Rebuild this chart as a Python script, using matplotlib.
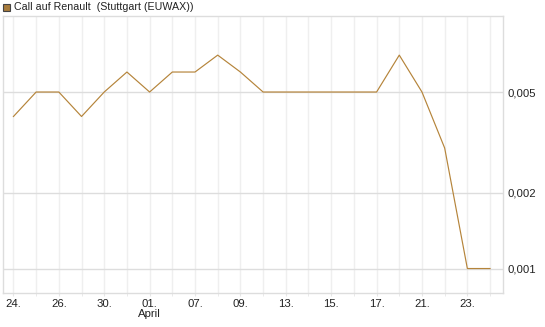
import matplotlib
matplotlib.use("Agg")
import matplotlib.pyplot as plt
from matplotlib.ticker import FixedLocator, NullLocator, FixedFormatter
from matplotlib.patches import Rectangle

plt.rcParams['font.family'] = ['Liberation Sans', 'DejaVu Sans']

title = "Call auf Renault  (Stuttgart (EUWAX))"
values = [0.004, 0.005, 0.005, 0.004, 0.005, 0.006, 0.005, 0.006, 0.006, 0.007, 0.006,
          0.005, 0.005, 0.005, 0.005, 0.005, 0.005, 0.007, 0.005, 0.003, 0.001, 0.001]
tick_idx = [0, 2, 4, 6, 8, 10, 12, 14, 16, 18, 20]
tick_labels = ["24.", "26.", "30.", "01.", "07.", "09.", "13.", "15.", "17.", "21.", "23."]
month_idx = 6
month_label = "April"
y_ticks = [0.001, 0.002, 0.005]
y_labels = ["0,001", "0,002", "0,005"]

line_color = "#b5843a"

fig = plt.figure(figsize=(5.45, 3.27), dpi=100)
ax = fig.add_axes([3/545, 1 - 293/327, 500/545, 277/327])

x = list(range(len(values)))
ax.plot(x, values, color=line_color, linewidth=0.85, zorder=3)

ax.set_yscale('log')
ax.set_ylim(0.0008, 0.01)
ax.set_xlim(-0.46, 21.57)

ax.yaxis.set_major_locator(FixedLocator(y_ticks))
ax.yaxis.set_major_formatter(FixedFormatter(y_labels))
ax.yaxis.set_minor_locator(NullLocator())
ax.yaxis.tick_right()
ax.tick_params(axis='y', length=0, pad=3, labelsize=8.2, colors='#222222')

ax.xaxis.set_major_locator(FixedLocator(tick_idx))
ax.xaxis.set_major_formatter(FixedFormatter(tick_labels))
ax.xaxis.set_minor_locator(FixedLocator([i for i in x if i not in tick_idx]))
ax.tick_params(axis='x', which='both', length=2, pad=2, labelsize=8.2, labelcolor='#222222', color='#e6e6e6')

ax.grid(True, axis='y', which='major', color='#dddddd', linewidth=1.0)
ax.grid(True, axis='x', which='both', color='#efefef', linewidth=1.0)
ax.set_axisbelow(True)

for s in ax.spines.values():
    s.set_color('#dddddd')
    s.set_linewidth(1.0)

ax.text(month_idx, -0.077, month_label, transform=ax.get_xaxis_transform(),
        ha='center', va='center', fontsize=8.2, color='#222222')

# legend / title
fig.patches.append(Rectangle((3/545, 1 - 11/327), 7/545, 7/327, transform=fig.transFigure,
                             facecolor='#a87c3c', edgecolor='#444444', linewidth=0.8))
fig.text(14/545, 1 - 7.5/327, title, ha='left', va='center', fontsize=7.7, color='#222222')

fig.savefig("out.png", dpi=100)
